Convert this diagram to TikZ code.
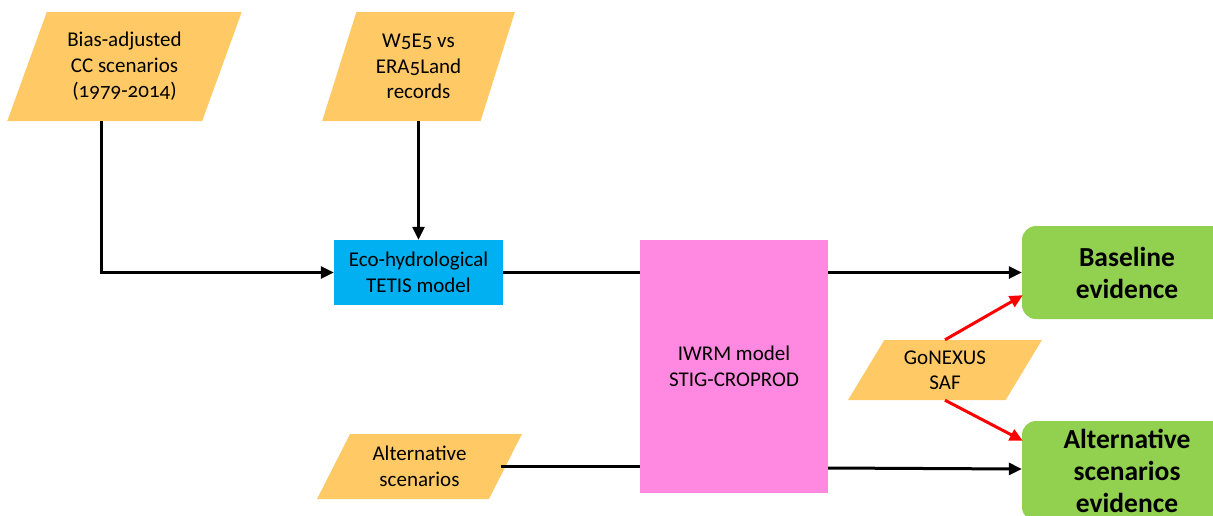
\documentclass[tikz,border=0pt]{standalone}
\usepackage{fontspec}
\setmainfont[Numbers=OldStyle]{Carlito}
\usetikzlibrary{shapes.geometric,arrows.meta,calc}
\definecolor{inorange}{HTML}{FFC966}
\definecolor{tcyan}{HTML}{00B0F0}
\definecolor{ipink}{HTML}{FF89E0}
\definecolor{egreen}{HTML}{92D050}
\tikzset{
  para/.style={trapezium, trapezium stretches=true, fill=inorange, draw=none,
    align=center, font=\fontsize{21}{25.5}\selectfont, inner sep=0pt},
  modelbox/.style={rectangle, draw=none, align=center, inner sep=0pt,
    font=\fontsize{21}{25.5}\selectfont},
  evid/.style={rectangle, rounded corners=14pt, fill=egreen, draw=none, align=center,
    inner sep=0pt, font=\fontsize{27.5}{32}\selectfont\bfseries},
  conn/.style={line width=3pt, -{Triangle[length=13pt,width=12pt]}},
  plain/.style={line width=3pt},
  redconn/.style={line width=3pt, red, -{Triangle[length=13pt,width=12pt]}},
}
\begin{document}
\begin{tikzpicture}[x=1pt,y=-1pt]
\useasboundingbox (0,0) rectangle (1213,515);
\clip (0,0) rectangle (1213,515);
% inputs
\node[para, trapezium left angle=67, trapezium right angle=113,
  minimum width=235, minimum height=109] (bias) at (124.5,66.5)
  {Bias-adjusted\\CC scenarios\\(1979-2014)};
\node[para, trapezium left angle=70, trapezium right angle=110,
  minimum width=193, minimum height=109] (w5) at (418.5,66.5)
  {W5E5 vs\\ERA5Land\\records};
\node[modelbox, fill=tcyan, minimum width=169, minimum height=65] (tetis) at (418.5,272.5)
  {Eco-hydrological\\TETIS model};
\node[modelbox, fill=ipink, minimum width=188, minimum height=253] (iwrm) at (734,366.5)
  {IWRM model\\STIG-CROPROD};
\node[para, trapezium left angle=61, trapezium right angle=119,
  minimum width=205, minimum height=65] (alt) at (419.5,466.5)
  {Alternative\\scenarios};
\node[para, trapezium left angle=58, trapezium right angle=122,
  minimum width=194, minimum height=60] (gon) at (945,370)
  {GoNEXUS\\SAF};
\node[evid, minimum width=210, minimum height=93] (base) at (1127,272.5)
  {Baseline\\evidence};
\node[evid, minimum width=210, minimum height=100] (altev) at (1127,471)
  {Alternative\\scenarios\\evidence};
% connectors
\coordinate (bs) at ($(bias.south)+(-23,0)$);
\draw[conn] (bs) |- (tetis.west);
\draw[conn] (w5.south -| tetis.north) -- (tetis.north);
\draw[plain] (tetis.east) -- (tetis.east -| iwrm.west);
\draw[conn] (iwrm.east |- base.west) -- (base.west);
\coordinate (ae) at ($(alt.east)+(-5,0)$);
\draw[plain] (ae) -- (ae -| iwrm.west);
\draw[conn] (iwrm.east |- 0,468) -- (altev.west |- 0,469);
\draw[redconn] (gon.north) -- ($(base.south west)+(1,-24)$);
\draw[redconn] (gon.south) -- ($(altev.north west)+(1,20)$);
\end{tikzpicture}
\end{document}
